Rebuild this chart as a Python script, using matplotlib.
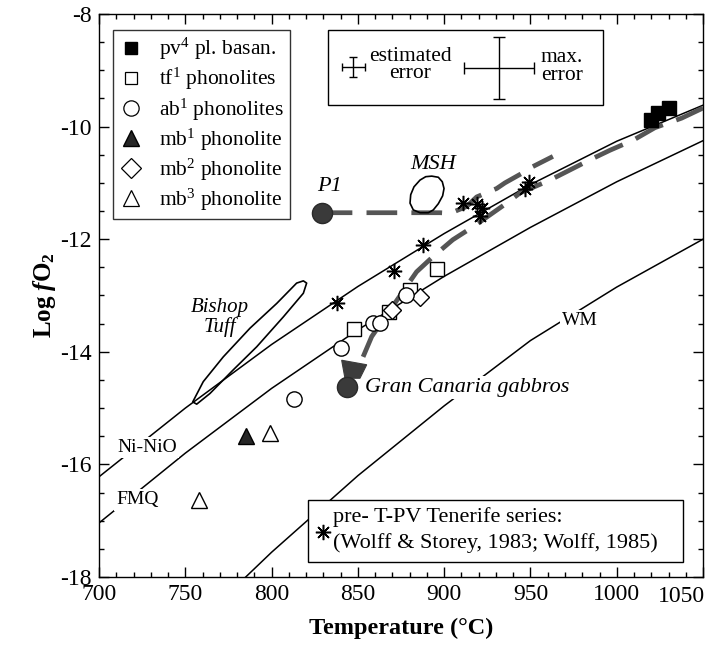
import numpy as np
import matplotlib
matplotlib.use("Agg")
import matplotlib.pyplot as plt
from matplotlib.patches import Rectangle, Polygon
from matplotlib.lines import Line2D
from matplotlib.ticker import MultipleLocator

plt.rcParams['font.family'] = ['Liberation Serif', 'DejaVu Serif']
plt.rcParams['mathtext.fontset'] = 'custom'
plt.rcParams['mathtext.rm'] = 'Liberation Serif'
plt.rcParams['mathtext.it'] = 'Liberation Serif:italic'
plt.rcParams['mathtext.bf'] = 'Liberation Serif:bold'
plt.rcParams['mathtext.bfit'] = 'Liberation Serif:italic:bold'
plt.rcParams['axes.unicode_minus'] = False

# --- buffer curves ---
buf_t = [700, 750, 800, 850, 900, 950, 1000, 1050]
nno = [-16.22, -15.0, -13.87, -12.84, -11.9, -11.03, -10.26, -9.62]
fmq = [-17.04, -15.80, -14.65, -13.61, -12.66, -11.79, -10.98, -10.25]
wm_t = [785, 800, 850, 900, 950, 1000, 1050]
wm = [-18.0, -17.56, -16.2, -14.96, -13.8, -12.85, -12.0]

# --- sample series ---
pv4_t = [1020, 1024, 1030]
pv4_fo2 = [-9.88, -9.76, -9.67]
tf1_t = [848, 868, 880, 896]
tf1_fo2 = [-13.6, -13.29, -12.9, -12.53]
ab1_t = [813, 840, 859, 863, 878]
ab1_fo2 = [-14.84, -13.94, -13.49, -13.49, -13.0]
mb1_t = [785]
mb1_fo2 = [-15.5]
mb2_t = [870, 886]
mb2_fo2 = [-13.25, -13.02]
mb3_t = [758, 799]
mb3_fo2 = [-16.63, -15.45]
ten_t = [838, 871, 888, 911, 919, 922, 921, 947, 949]
ten_fo2 = [-13.14, -12.56, -12.10, -11.36, -11.37, -11.45, -11.59, -11.10, -10.98]

p1_t, p1_fo2 = [829], [-11.53]
gc_t, gc_fo2 = [843.5], [-14.62]
gc_fan_t = [840.6, 855.1, 851.2, 842.5]
gc_fan_fo2 = [-14.15, -14.23, -14.47, -14.47]

# thick dashed trends
trend_p1_t = [829, 897.6, 903.4, 913, 918.8, 930.4, 935.2, 946.8, 951.4, 963]
trend_p1_fo2 = [-11.53, -11.53, -11.54, -11.42, -11.25, -11.10, -11.0, -10.80, -10.71, -10.53]
trend_gc_t = [853, 858, 884, 893.5, 905, 916.7, 936.2, 943.9, 961.3, 971, 984.5, 996.1, 1009.6, 1022.1, 1037.6, 1050]
trend_gc_fo2 = [-14.09, -13.73, -12.58, -12.31, -12.01, -11.78, -11.36, -11.18, -10.95, -10.8, -10.59, -10.42, -10.24, -10.02, -9.85, -9.67]

# outlined fields
msh_t = [892.8, 896.6, 898.9, 899.9, 899.1, 896.6, 893.7, 890.8, 886.0, 882.1, 880.2, 880.6, 882.5, 886.0, 889.3]
msh_fo2 = [-10.88, -10.90, -10.98, -11.10, -11.23, -11.37, -11.48, -11.53, -11.53, -11.48, -11.36, -11.21, -11.07, -10.95, -10.89]
bt_t = [754.3, 760.4, 772.0, 787.5, 803.0, 814.5, 818.4, 820.3, 818.4, 806.8, 791.4, 777.8, 764.3, 756.6]
bt_fo2 = [-14.89, -14.53, -14.09, -13.58, -13.14, -12.78, -12.74, -12.78, -12.96, -13.38, -13.91, -14.32, -14.74, -14.93]

err_est = (6.8, 0.18)
err_max = (20.3, 0.55)

fig = plt.figure(figsize=(7.15, 6.5), dpi=100)
ax = fig.add_axes([0.1385, 0.1123, 0.8448, 0.8662])
ax.set_xlim(700, 1050)
ax.set_ylim(-18, -8)

lw = 1.1
ax.plot(buf_t, nno, color='black', lw=lw, zorder=2)
ax.plot(buf_t, fmq, color='black', lw=lw, zorder=2)
ax.plot(wm_t, wm, color='black', lw=lw, zorder=2)

dash = dict(color='#555555', lw=3.4, linestyle=(0, (6.5, 3)), dash_capstyle='butt', zorder=3)
ax.plot(trend_p1_t, trend_p1_fo2, **dash)
ax.plot(trend_gc_t, trend_gc_fo2, **dash)

ax.add_patch(Polygon(np.column_stack([msh_t, msh_fo2]), closed=True, fill=False, ec='black', lw=1.2, joinstyle='round', zorder=4))
ax.add_patch(Polygon(np.column_stack([bt_t, bt_fo2]), closed=True, fill=False, ec='black', lw=1.2, joinstyle='round', zorder=4))
ax.add_patch(Polygon(np.column_stack([gc_fan_t, gc_fan_fo2]), closed=True, fc='#3c3c3c', ec='#3c3c3c', lw=0.8, zorder=5))

ax.plot(p1_t, p1_fo2, 'o', ms=14.5, mfc='#3a3a3a', mec='#2a2a2a', zorder=6)
ax.plot(gc_t, gc_fo2, 'o', ms=14.5, mfc='#3a3a3a', mec='#2a2a2a', zorder=6)

mk = dict(linestyle='none', mec='black', mew=1.0, zorder=7)
ax.plot(ten_t, ten_fo2, marker=(8, 2, 0), ms=11, color='black', mew=1.1, linestyle='none', zorder=7)
ax.plot(tf1_t, tf1_fo2, 's', ms=10, mfc='white', **mk)
ax.plot(mb2_t, mb2_fo2, 'D', ms=9, mfc='white', **mk)
ax.plot(ab1_t, ab1_fo2, 'o', ms=11, mfc='white', **mk)
ax.plot(pv4_t, pv4_fo2, 's', ms=10, mfc='black', **mk)
ax.plot(mb1_t, mb1_fo2, '^', ms=12, mfc='#262626', **mk)
ax.plot(mb3_t, mb3_fo2, '^', ms=12, mfc='white', **mk)

# curve and field labels
white = dict(fc='white', ec='none', pad=1.5)
ax.text(728.1, -15.70, 'Ni-NiO', fontsize=14, ha='center', va='center', bbox=white, zorder=8)
ax.text(722.3, -16.63, 'FMQ', fontsize=14, ha='center', va='center', bbox=white, zorder=8)
ax.text(978.7, -13.44, 'WM', fontsize=14, ha='center', va='center', bbox=white, zorder=8)
ax.text(854.1, -14.64, 'Gran Canaria gabbros', fontsize=16, style='italic', ha='left', va='center', bbox=white, zorder=8)
ax.text(833.8, -11.07, 'P1', fontsize=16, style='italic', ha='center', va='center', zorder=8)
ax.text(893.7, -10.68, 'MSH', fontsize=16, style='italic', ha='center', va='center', zorder=8)
ax.text(770.1, -13.39, 'Bishop\nTuff', fontsize=15, style='italic', ha='center', va='center', linespacing=1.0, zorder=8)

# legend of sample symbols
handles = [
    Line2D([], [], marker='s', ms=9, mfc='black', mec='black', linestyle='none'),
    Line2D([], [], marker='s', ms=9, mfc='white', mec='black', mew=0.9, linestyle='none'),
    Line2D([], [], marker='o', ms=11, mfc='white', mec='black', mew=0.9, linestyle='none'),
    Line2D([], [], marker='^', ms=11, mfc='#262626', mec='black', linestyle='none'),
    Line2D([], [], marker='D', ms=10, mfc='white', mec='black', mew=0.9, linestyle='none'),
    Line2D([], [], marker='^', ms=12, mfc='white', mec='black', mew=0.9, linestyle='none'),
]
labels = [r'pv$^{4}$ pl. basan.', r'tf$^{1}$ phonolites', r'ab$^{1}$ phonolites',
          r'mb$^{1}$ phonolite', r'mb$^{2}$ phonolite', r'mb$^{3}$ phonolite']
leg = ax.legend(handles, labels, loc='upper left', bbox_to_anchor=(0.023, 0.972),
                frameon=True, fancybox=False, edgecolor='black', fontsize=15.5,
                handlelength=1.1, handletextpad=0.75, labelspacing=0.18,
                borderpad=0.3, borderaxespad=0.0)
leg.get_frame().set_linewidth(1.0)
leg.set_zorder(9)

# error box
ax.add_patch(Rectangle((0.3796, 0.8384), 0.4554, 0.1332, transform=ax.transAxes,
                       fc='white', ec='black', lw=1.0, zorder=9))
ax.errorbar([847.3], [-8.94], xerr=[err_est[0]], yerr=[err_est[1]], fmt='none',
            ecolor='black', elinewidth=1.0, capsize=3, capthick=1.0, zorder=10)
ax.errorbar([931.7], [-8.96], xerr=[err_max[0]], yerr=[err_max[1]], fmt='none',
            ecolor='black', elinewidth=1.0, capsize=4, capthick=1.0, zorder=10)
ax.text(0.5149, 0.9094, 'estimated\nerror', transform=ax.transAxes, fontsize=15.5,
        ha='center', va='center', linespacing=0.9, zorder=10)
ax.text(0.766, 0.9064, 'max.\nerror', transform=ax.transAxes, fontsize=15.5,
        ha='center', va='center', linespacing=0.9, zorder=10)

# Tenerife series box
ax.add_patch(Rectangle((0.3465, 0.0272), 0.6209, 0.1096, transform=ax.transAxes,
                       fc='white', ec='black', lw=1.0, zorder=9))
ax.plot([0.3714], [0.0805], transform=ax.transAxes, marker=(8, 2, 0), ms=11,
        color='black', mew=1.1, zorder=10, clip_on=False)
ax.text(0.3874, 0.1071, 'pre- T-PV Tenerife series:', transform=ax.transAxes,
        fontsize=16, ha='left', va='center', zorder=10)
ax.text(0.3874, 0.0598, '(Wolff & Storey, 1983; Wolff, 1985)', transform=ax.transAxes,
        fontsize=16, ha='left', va='center', zorder=10)

# axes styling
ax.set_xticks([700, 750, 800, 850, 900, 950, 1000, 1050])
ax.set_xticklabels(['700', '750', '800', '850', '900', '950', '1000', ''])
ax.set_yticks([-18, -16, -14, -12, -10, -8])
ax.set_yticklabels(['-18', '-16', '-14', '-12', '-10', '-8'])
ax.xaxis.set_minor_locator(MultipleLocator(10))
ax.yaxis.set_minor_locator(MultipleLocator(0.5))
ax.tick_params(which='both', direction='in', top=True, right=True, labelsize=17, width=1.0)
ax.tick_params(which='major', length=7, pad=5)
ax.tick_params(which='minor', length=3.5)
ax.text(1.004, -0.016, '1050', transform=ax.transAxes, fontsize=17, ha='right', va='top')
for s in ax.spines.values():
    s.set_linewidth(1.0)

ax.set_xlabel('Temperature (°C)', fontsize=17.5, fontweight='bold', labelpad=9)
ax.set_ylabel(r'$\mathbf{Log}\ \mathbfit{f}\mathbf{O}_{\mathbf{2}}$', fontsize=18, labelpad=2)

fig.savefig('out.png', dpi=100)
